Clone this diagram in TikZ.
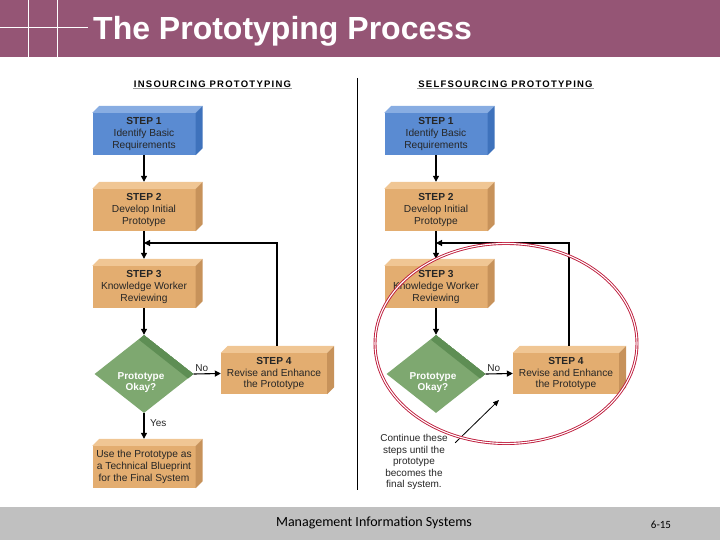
\documentclass[tikz,border=0pt]{standalone}
\usepackage{fontspec}
\setmainfont{Liberation Sans}
\newfontfamily\footfont{Carlito}
\usetikzlibrary{arrows.meta,shapes.geometric}

\definecolor{titlebar}{RGB}{149,85,117}
\definecolor{footbar}{RGB}{192,192,192}
\definecolor{bluefront}{RGB}{90,139,210}
\definecolor{bluetop}{RGB}{136,173,226}
\definecolor{blueside}{RGB}{62,114,188}
\definecolor{tanfront}{RGB}{227,173,112}
\definecolor{tantop}{RGB}{240,198,148}
\definecolor{tanside}{RGB}{199,146,90}
\definecolor{greenlight}{RGB}{126,168,112}
\definecolor{greendark}{RGB}{94,142,84}
\definecolor{ringred}{RGB}{190,28,60}

% top and side faces of a step box
\newcommand{\boxfaces}[3]{%
  \fill[#2] (#1.north west) -- ++(7,-7) -- ([shift={(7,-7)}]#1.north east) -- (#1.north east) -- cycle;
  \fill[#3] (#1.north east) -- ++(7,-7) -- ([shift={(7,-7)}]#1.south east) -- (#1.south east) -- cycle;}

\begin{document}
\begin{tikzpicture}[x=1pt,y=-1pt,
  stepbox/.style={minimum width=103pt, minimum height=42pt, inner sep=0pt, align=center,
    font=\fontsize{10.2}{11.8}\selectfont, text=black!85},
  dia/.style={diamond, fill=greenlight, minimum width=99pt, minimum height=78pt, inner sep=0pt},
  diatext/.style={text=white, font=\fontsize{10}{11.5}\selectfont\bfseries, align=center},
  lbl/.style={font=\fontsize{10}{11}\selectfont, inner sep=1.5pt, text=black!85},
  head/.style={font=\fontsize{9.5}{10}\selectfont\bfseries\addfontfeature{LetterSpace=13}, inner sep=1pt},
  arr/.style={-{Triangle[length=6pt,width=6pt]}, line width=1.1pt}]

\useasboundingbox (0,0) rectangle (720,540);
% title and footer bars
\fill[titlebar] (0,0) rectangle (720,57);
\draw[white, line width=0.8pt] (0,27.5) -- (88,27.5) (28,0) -- (28,57) (57,0) -- (57,57);
\node[anchor=base west, text=white, inner sep=0pt, font=\fontsize{32}{36}\selectfont\bfseries] (title) at (93,40) {The Prototyping Process};
\fill[footbar] (0,507) rectangle (720,540);
\node[anchor=base, font=\footfont\fontsize{14}{16}\selectfont] (foot) at (374,526) {Management Information Systems};
\node[anchor=base, font=\footfont\fontsize{11}{13}\selectfont] (page) at (661,528.5) {6-15};

\draw[line width=0.8pt] (357,78) -- (357,490);

% column headings
\node[head] (hl) at (212.5,84) {INSOURCING PROTOTYPING};
\node[head] (hr) at (505.5,84) {SELFSOURCING PROTOTYPING};
\draw[black!40] (hl.south west) -- (hl.south east) (hr.south west) -- (hr.south east);

% both flows
\foreach \col/\dx in {l/0,r/292}{
  \node[stepbox, fill=bluefront] (\col1) at (144+\dx,134) {\textbf{STEP 1}\\Identify Basic\\Requirements};
  \boxfaces{\col1}{bluetop}{blueside}
  \node[stepbox, fill=tanfront] (\col2) at (144+\dx,210) {\textbf{STEP 2}\\Develop Initial\\Prototype};
  \boxfaces{\col2}{tantop}{tanside}
  \node[stepbox, fill=tanfront] (\col3) at (144+\dx,287) {\textbf{STEP 3}\\Knowledge Worker\\Reviewing};
  \boxfaces{\col3}{tantop}{tanside}
  \node[stepbox, fill=tanfront, minimum width=106pt, minimum height=41pt] (\col4) at (274+\dx,373.5) {\textbf{STEP 4}\\Revise and Enhance\\the Prototype};
  \boxfaces{\col4}{tantop}{tanside}
  \node[dia] (\col d) at (144+\dx,374) {};
  \begin{scope}
    \clip (\col d.north) -- (\col d.east) -- (\col d.south) -- (\col d.west) -- cycle;
    \fill[greendark] (\col d.north) -- (\col d.east) -- ([xshift=-5pt,yshift=-5pt]\col d.east) -- ([xshift=-5pt,yshift=-5pt]\col d.north) -- cycle;
  \end{scope}
  \node[diatext] (\col t) at ([xshift=-3pt,yshift=-8.5pt]\col d.center) {Prototype\\Okay?};
  \coordinate (\col j) at (144+\dx,243);

  \draw[arr] (\col1.south) -- ([yshift=7pt]\col2.north);
  \draw[arr] (\col2.south) -- ([yshift=7pt]\col3.north);
  \draw[arr] (\col3.south) -- (\col d.north);
  \draw[arr] (\col d.east) -- node[lbl, above, pos=0.3] (\col n) {No} (\col4.west);
  \draw[arr] ([xshift=3pt,yshift=7pt]\col4.north) |- (\col j);
}

% insourcing ends in a final box
\node[stepbox, fill=tanfront] (lf) at (144,467) {Use the Prototype as\\a Technical Blueprint\\for the Final System};
\boxfaces{lf}{tantop}{tanside}
\draw[arr] (ld.south) -- node[lbl, right, pos=0.4, xshift=4pt] (yes) {Yes} ([yshift=7pt]lf.north);

% selfsourcing note and ring
\node[align=center, font=\fontsize{10}{11.5}\selectfont, text=black!85] (note) at (414,462) {Continue these\\steps until the\\prototype\\becomes the\\final system.};
\coordinate (notetip) at (499,400);
\draw[-{Triangle[length=6pt,width=5pt]}, line width=0.8pt] ([xshift=4pt,yshift=-12pt]note.north east) -- (notetip);
\draw[ringred, line width=0.9pt, double=white, double distance=1.1pt] (506,343.5) ellipse [x radius=131pt, y radius=100pt];
\end{tikzpicture}
\end{document}
